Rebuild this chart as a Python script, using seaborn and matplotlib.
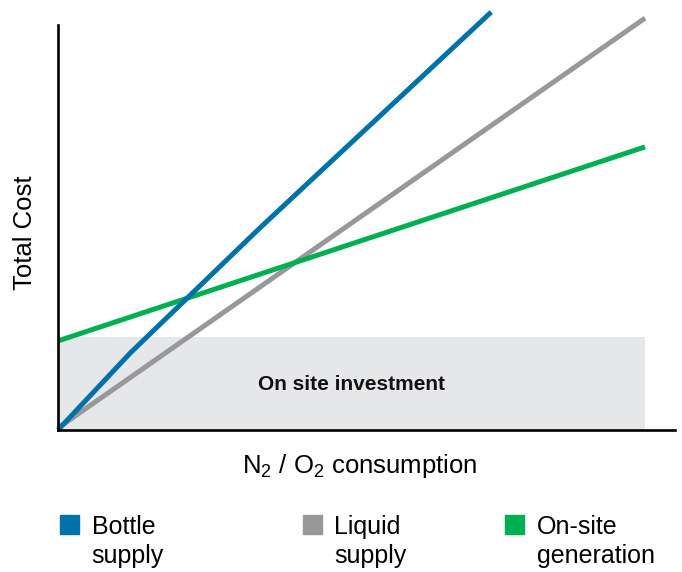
import pandas as pd
import matplotlib
matplotlib.use("Agg")
import matplotlib.pyplot as plt
import seaborn as sns
from matplotlib.patches import Patch, Rectangle
from matplotlib.legend_handler import HandlerPatch

# --- datos (unidades arbitrarias: consumo 0..10, coste 0..100) ---
bottle_x = [0.0, 1.23, 3.44, 7.38]
bottle_y = [0.0, 19.0, 49.9, 103.2]
liquid_x = [0.0, 10.0]
liquid_y = [0.5, 101.7]
onsite_x = [0.0, 10.0]
onsite_y = [22.0, 69.9]
inversion_x = [0.0, 10.0]
inversion_y = [23.0, 23.0]

series = ["Bottle\nsupply", "Liquid\nsupply", "On-site\ngeneration"]
colores = {"Bottle\nsupply": "#0072a9",
           "Liquid\nsupply": "#98989a",
           "On-site\ngeneration": "#00b050"}

df = pd.concat([
    pd.DataFrame({"x": liquid_x, "y": liquid_y, "serie": series[1]}),
    pd.DataFrame({"x": onsite_x, "y": onsite_y, "serie": series[2]}),
    pd.DataFrame({"x": bottle_x, "y": bottle_y, "serie": series[0]}),
])

sns.set_theme(style="white")
plt.rcParams["font.family"] = ["Liberation Sans", "DejaVu Sans"]
plt.rcParams["mathtext.fontset"] = "custom"
plt.rcParams["mathtext.rm"] = "Liberation Sans"
plt.rcParams["mathtext.it"] = "Liberation Sans:italic"

fig = plt.figure(figsize=(6.82, 5.72), dpi=100)
ax = fig.add_axes([58 / 682, 142 / 572, 617 / 682, 429.3 / 572])

# zona de inversion
ax.fill_between(inversion_x, 0, inversion_y, color="#e6e7e8", lw=0, zorder=0)
ax.text(5.0, 11.2, "On site investment", ha="center", va="center",
        fontsize=15, fontweight="bold", color="#111111")

sns.lineplot(data=df, x="x", y="y", hue="serie", palette=colores,
             estimator=None, sort=False, linewidth=3.6, legend=False, ax=ax)
for ln in ax.lines:
    ln.set_solid_capstyle("butt")
    ln.set_solid_joinstyle("round")
    ln.set_clip_on(False)

ax.set_xlim(0, 10.51)
ax.set_ylim(0, 106)
ax.set_xticks([])
ax.set_yticks([])
for s in ["top", "right"]:
    ax.spines[s].set_visible(False)
for s in ["left", "bottom"]:
    ax.spines[s].set_color("black")
    ax.spines[s].set_linewidth(1.9)
ax.spines["left"].set_bounds(0, 100)

ax.set_ylabel("Total Cost", fontsize=18.5, color="black")
ax.yaxis.set_label_coords(-0.034, 0.46)
ax.set_xlabel(r"N$_2$ / O$_2$ consumption", fontsize=18.5, color="black")
ax.xaxis.set_label_coords(0.489, -0.051)
ax.xaxis.label.set_va("top")


# leyenda: cuadro alineado con la primera linea
def cuadro_arriba(legend, orig_handle, xdescent, ydescent, width, height, fontsize):
    return Rectangle((-xdescent, -ydescent + 0.70 * fontsize), width, height)


posiciones_x = [60 / 682, 303 / 682, 505 / 682]
for nombre, px in zip(series, posiciones_x):
    leg = fig.legend(handles=[Patch(color=colores[nombre], label=nombre)],
                     loc="upper left", bbox_to_anchor=(px, 1 - 515 / 572),
                     frameon=False, fontsize=18, borderpad=0, borderaxespad=0,
                     handlelength=0.76, handleheight=0.76, handletextpad=0.5,
                     handler_map={Patch: HandlerPatch(patch_func=cuadro_arriba)})
    for t in leg.get_texts():
        t.set_linespacing(1.25)
        t.set_color("black")

fig.savefig("out.png", dpi=100)
